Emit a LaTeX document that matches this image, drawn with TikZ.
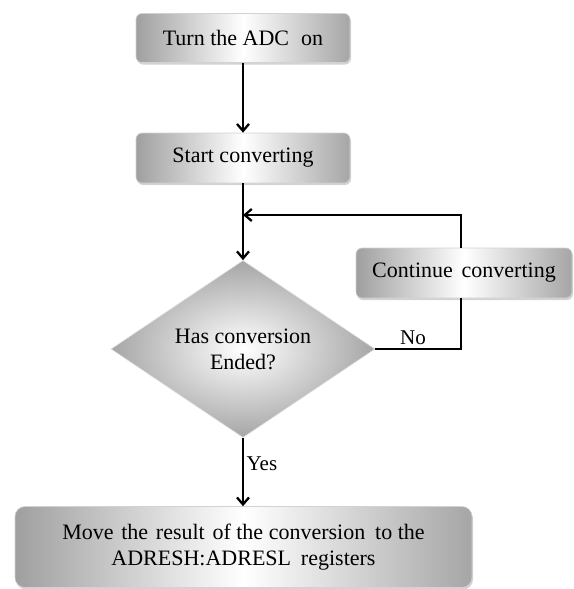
\documentclass[tikz,border=0pt]{standalone}
\usepackage{fontspec}
\setmainfont{Liberation Serif}
\usetikzlibrary{shapes.geometric,arrows.meta,shadows}
\begin{document}
\begin{tikzpicture}[x=1pt,y=-1pt,
  font=\fontsize{22}{26}\selectfont,
  procbox/.style={rectangle, rounded corners=6pt, draw=gray!35, line width=0.6pt,
    left color=gray!75, right color=gray!70, middle color=white,
    drop shadow={opacity=0.35, shadow xshift=1pt, shadow yshift=-2pt},
    inner sep=2pt, align=center, text=black},
  decbox/.style={diamond, draw=gray!25, line width=0.6pt, inner sep=0pt,
    inner color=white, outer color=gray!70, align=center, text=black,
    minimum width=264pt, minimum height=175pt},
  conn/.style={line width=2.6pt, black},
  arr/.style={conn, -{Straight Barb[length=7pt,width=12pt,line width=2.3pt]}},
  lbl/.style={font=\fontsize{21}{25}\selectfont, text=black}
]
\useasboundingbox (0,0) rectangle (573,589);
\node[procbox, minimum width=214pt, minimum height=49pt] (on) at (243,38) {Turn the ADC\hspace{0.3em} on};
\node[procbox, minimum width=214pt, minimum height=50pt] (start) at (243,158) {Start converting};
\node[decbox] (dec) at (243,349) {Has conversion\\Ended?};
\node[procbox, minimum width=216pt, minimum height=50pt] (cont) at (464,273) {Continue\hspace{0.15em} converting};
\node[procbox, minimum width=457pt, minimum height=81pt, rounded corners=10pt] (move) at (243.5,547)
  {Move\hspace{0.1em} the\hspace{0.1em} result\hspace{0.1em} of the conversion\hspace{0.2em} to the\\ADRESH:ADRESL\hspace{0.2em} registers};
\coordinate (join) at (243,215);
\draw[arr] (on.south -| 243,0) -- (start.north -| 243,0);
\draw[arr] (start.south -| dec.north) -- (dec.north);
\draw[arr] (cont.north -| 461,0) |- (join);
\draw[conn] (dec.east) -| node[pos=0.22, above, lbl] {No} (cont.south -| 461,0);
\draw[arr] (dec.south) -- node[right, pos=0.38, lbl, xshift=-1pt] {Yes} (dec.south |- move.north);
\end{tikzpicture}
\end{document}
